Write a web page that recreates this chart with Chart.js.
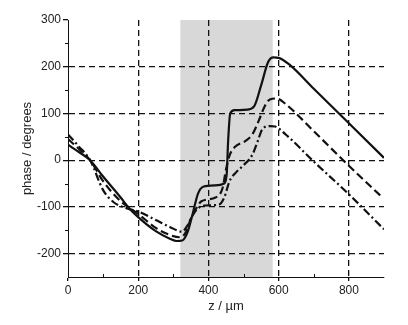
<!DOCTYPE html>
<html>
<head>
<meta charset="utf-8">
<script src="https://cdn.jsdelivr.net/npm/chart.js@4"></script>
<style>
  html, body { margin: 0; padding: 0; background: #fff; }
  #wrap { width: 408px; height: 325px; }
</style>
</head>
<body>
<div id="wrap"><canvas id="phaseChart" width="408" height="325"></canvas></div>
<script>
/* ---------- data ---------- */
const solidZ     = [0, 30, 63, 100, 150, 171, 200, 250, 290, 310, 325, 340, 355, 370, 385, 420, 445, 452, 456, 462, 475, 510, 530, 550, 570, 585, 600, 630, 700, 800, 900];
const solidPhase = [33, 18, 0, -35, -80, -100, -122, -152, -168, -173, -172, -155, -115, -72, -57, -54, -50, -30, 40, 100, 107, 108, 115, 160, 210, 220, 219, 205, 153, 79, 5];

const dashedZ     = [0, 30, 63, 100, 150, 171, 200, 250, 290, 320, 335, 350, 363, 380, 420, 440, 450, 460, 475, 505, 525, 543, 560, 575, 595, 620, 700, 800, 890];
const dashedPhase = [45, 25, 0, -45, -88, -100, -115, -145, -160, -165, -155, -125, -106, -88, -80, -60, -20, 10, 28, 41, 55, 84, 115, 130, 132, 120, 62, -12, -76];

const dashDotZ     = [0, 30, 63, 100, 130, 171, 200, 250, 290, 325, 340, 355, 370, 390, 430, 445, 460, 480, 497, 526, 540, 554, 575, 590, 620, 700, 800, 900];
const dashDotPhase = [55, 30, 0, -64, -90, -104, -110, -128, -143, -153, -140, -118, -103, -97, -95, -80, -45, -25, -13, 13, 40, 67, 73, 72, 55, -3, -73, -148];

const xTicks = [0, 200, 400, 600, 800];
const yTicks = [-200, -100, 0, 100, 200, 300];
const xMinor = [100, 300, 500, 700];
const yMinor = [-150, -50, 50, 150, 250];

// shaded z interval
const shadeFrom = 320;
const shadeTo = 583;

/* ---------- helpers ---------- */
function points(xs, ys) {
  return xs.map((x, i) => ({ x: x, y: ys[i] }));
}

const FONT = "'Liberation Sans', Arial, sans-serif";
const INK = "#111";

/* ---------- plugins ---------- */
const shadePlugin = {
  id: "shade",
  beforeDraw(chart) {
    const { ctx, chartArea, scales } = chart;
    const x0 = scales.x.getPixelForValue(shadeFrom);
    const x1 = scales.x.getPixelForValue(shadeTo);
    ctx.save();
    ctx.fillStyle = "#d8d8d8";
    ctx.fillRect(x0, chartArea.top, x1 - x0, chartArea.bottom - chartArea.top);
    ctx.restore();
  }
};

const minorTicks = {
  id: "minorTicks",
  afterDraw(chart) {
    const { ctx, chartArea, scales } = chart;
    ctx.save();
    ctx.strokeStyle = INK;
    ctx.lineWidth = 1;
    ctx.beginPath();
    yMinor.forEach(v => {
      const y = Math.round(scales.y.getPixelForValue(v)) + 0.5;
      ctx.moveTo(chartArea.left - 3, y);
      ctx.lineTo(chartArea.left, y);
    });
    xMinor.forEach(v => {
      const x = Math.round(scales.x.getPixelForValue(v)) + 0.5;
      ctx.moveTo(x, chartArea.bottom);
      ctx.lineTo(x, chartArea.bottom - 3);
    });
    ctx.stroke();
    ctx.restore();
  }
};

/* ---------- chart ---------- */
const lineBase = {
  showLine: true,
  pointRadius: 0,
  borderColor: INK,
  borderWidth: 2.2,
  fill: false,
  cubicInterpolationMode: "monotone"
};

new Chart(document.getElementById("phaseChart"), {
  type: "scatter",
  data: {
    datasets: [
      Object.assign({ label: "solid", data: points(solidZ, solidPhase) }, lineBase),
      Object.assign({ label: "dashed", data: points(dashedZ, dashedPhase), borderDash: [8, 4] }, lineBase),
      Object.assign({ label: "dash-dot", data: points(dashDotZ, dashDotPhase), borderDash: [8, 3, 2, 3] }, lineBase)
    ]
  },
  options: {
    responsive: false,
    animation: false,
    layout: { padding: { top: 20, right: 24, left: 0, bottom: 0 } },
    plugins: {
      legend: { display: false },
      tooltip: { enabled: false }
    },
    scales: {
      x: {
        type: "linear",
        min: 0,
        max: 900,
        afterBuildTicks: s => { s.ticks = xTicks.map(v => ({ value: v })); },
        afterFit: s => { s.height = 48; },
        ticks: {
          color: "#222",
          font: { family: FONT, size: 12 },
          padding: 2,
          maxRotation: 0
        },
        grid: {
          color: c => (c.tick && c.tick.value === 0 ? "rgba(0,0,0,0)" : INK),
          tickColor: INK,
          tickLength: 4,
          lineWidth: 1.3
        },
        border: { display: true, color: INK, width: 1, dash: [6, 4] },
        title: {
          display: true,
          text: "z / µm",
          color: "#222",
          font: { family: FONT, size: 13 },
          padding: { top: 0, bottom: 11 }
        }
      },
      y: {
        type: "linear",
        min: -250,
        max: 300,
        afterBuildTicks: s => { s.ticks = yTicks.map(v => ({ value: v })); },
        afterFit: s => { s.width = 68; },
        ticks: {
          color: "#222",
          font: { family: FONT, size: 12 },
          padding: 2
        },
        grid: {
          color: c => (c.tick && c.tick.value === 300 ? "rgba(0,0,0,0)" : INK),
          tickColor: INK,
          tickLength: 5,
          lineWidth: 1.3
        },
        border: { display: true, color: INK, width: 1, dash: [6, 4] },
        title: {
          display: true,
          text: "phase / degrees",
          color: "#222",
          font: { family: FONT, size: 13 },
          padding: { top: 20, bottom: 0 }
        }
      }
    }
  },
  plugins: [shadePlugin, minorTicks]
});
</script>
</body>
</html>
